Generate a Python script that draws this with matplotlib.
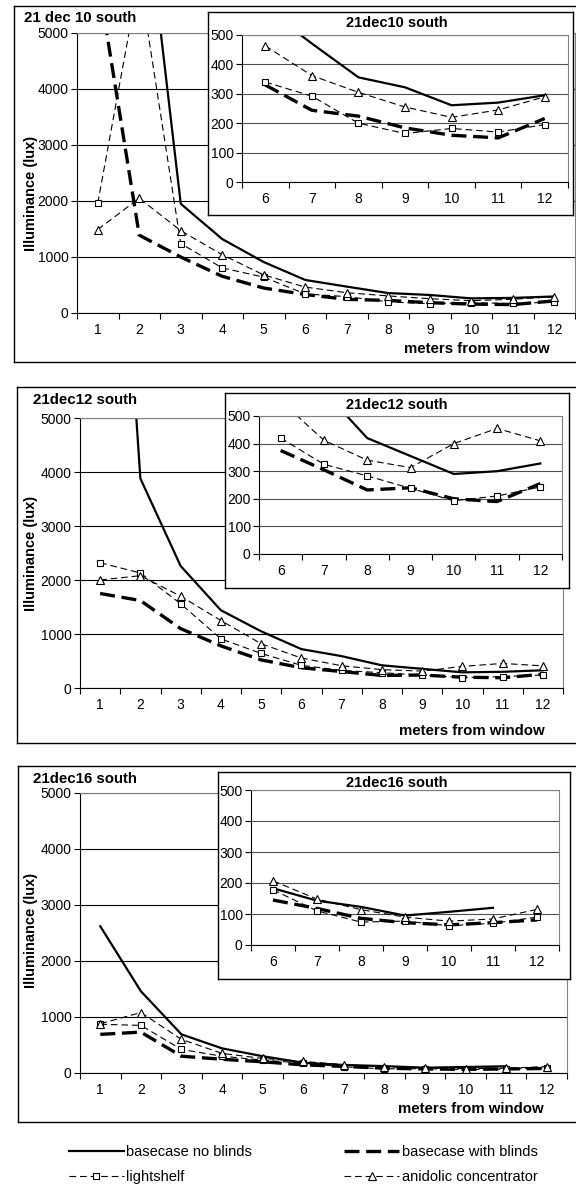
import numpy as np
import matplotlib
matplotlib.use("Agg")
import matplotlib.pyplot as plt
from matplotlib.lines import Line2D

plt.rcParams['font.family'] = ['Liberation Sans', 'DejaVu Sans']

W, H = 576, 1187
meters = np.arange(1, 13)
series_names = ["basecase no blinds", "basecase with blinds", "lightshelf", "anidolic concentrator"]

# 21 dec 10:00 south
dec10_nob = [10500, 8300, 1950, 1320, 910, 590, 471, 356, 322, 261, 270, 295]
dec10_blinds = [6000, 1390, 1000, 655, 446, 330, 244, 224, 184, 159, 150, 216]
dec10_shelf = [1960, 6000, 1240, 805, 640, 340, 292, 200, 165, 182, 170, 195]
dec10_anid = [1490, 2050, 1470, 1040, 680, 463, 362, 305, 255, 220, 245, 290]

# 21 dec 12:00 south
dec12_nob = [15000, 3880, 2260, 1440, 1050, 720, 590, 420, 355, 290, 300, 328]
dec12_blinds = [1750, 1620, 1100, 780, 520, 375, 305, 232, 240, 200, 190, 255]
dec12_shelf = [2320, 2130, 1560, 910, 640, 420, 325, 283, 238, 193, 210, 243]
dec12_anid = [2000, 2080, 1700, 1250, 820, 555, 412, 340, 313, 400, 455, 410]

# 21 dec 16:00 south
dec16_nob = [2620, 1460, 690, 440, 300, 183, 143, 123, 95, 107, 120, np.nan]
dec16_blinds = [690, 730, 300, 245, 200, 145, 118, 86, 72, 65, 72, 81]
dec16_shelf = [870, 850, 420, 300, 230, 178, 110, 74, 77, 62, 70, 90]
dec16_anid = [880, 1080, 600, 350, 260, 207, 148, 114, 90, 77, 84, 115]

main_titles = ["21 dec 10 south", "21dec12 south", "21dec16 south"]
inset_titles = ["21dec10 south", "21dec12 south", "21dec16 south"]
panel_data = [
    (dec10_nob, dec10_blinds, dec10_shelf, dec10_anid),
    (dec12_nob, dec12_blinds, dec12_shelf, dec12_anid),
    (dec16_nob, dec16_blinds, dec16_shelf, dec16_anid),
]

fig = plt.figure(figsize=(W / 100, H / 100), dpi=100)


def rect(l, t, r, b):
    return [l / W, 1 - b / H, (r - l) / W, (b - t) / H]


def box(l, t, r, b, face='none'):
    ax = fig.add_axes(rect(l, t, r, b))
    ax.set_xticks([])
    ax.set_yticks([])
    ax.set_facecolor(face)
    for s in ax.spines.values():
        s.set_color('black')
        s.set_linewidth(1.0)
    return ax


styles = [
    dict(color='k', lw=1.6),
    dict(color='k', lw=2.4, dashes=(4.5, 2.0)),
    dict(color='k', lw=0.8, dashes=(6, 3.5), marker='s', ms=5, mfc='white', mec='k', mew=0.8),
    dict(color='k', lw=0.8, dashes=(6, 3.5), marker='^', ms=6, mfc='white', mec='k', mew=0.8),
]


def draw(ax, x, ys):
    for y, st in zip(ys, styles):
        ax.plot(x, y, **st)


def style_axes(ax, x, ymax, ystep, gridc, fs):
    ax.set_xlim(x[0] - 0.5, x[-1] + 0.5)
    ax.set_ylim(0, ymax)
    ax.set_yticks(np.arange(0, ymax + 1, ystep))
    ax.yaxis.grid(True, color=gridc, lw=0.8)
    ax.set_axisbelow(True)
    ax.set_xticks(x)
    ax.set_xticks(np.arange(x[0] - 0.5, x[-1] + 1), minor=True)
    ax.tick_params(axis='x', which='major', length=0, pad=7, labelsize=fs)
    ax.tick_params(axis='x', which='minor', length=4, direction='out', width=0.8)
    ax.tick_params(axis='y', length=4, direction='out', width=0.8, labelsize=fs, pad=2)
    ax.spines['left'].set_color('k')
    ax.spines['bottom'].set_color('k')
    for s in ['top', 'right']:
        ax.spines[s].set_color('#808080')
        ax.spines[s].set_linewidth(0.8)


# layout in pixels: outer box, main axes, inset frame, inset axes, text anchors
layouts = [
    dict(outer=(14, 6, 600, 362), main=(77, 33, 575, 313), frame=(208, 12, 573, 215),
         inset=(242, 35, 568, 182), title=(24, 18), ititle=(397, 23), ylab=(31, 193), xlab=(550, 349)),
    dict(outer=(17, 387, 600, 743), main=(80, 418, 563, 688), frame=(225, 393, 569, 588),
         inset=(259, 416, 562, 554), title=(33, 400), ititle=(397, 405), ylab=(31, 553), xlab=(545, 731)),
    dict(outer=(18, 766, 600, 1122), main=(80, 793, 567, 1073), frame=(218, 772, 570, 979),
         inset=(251, 790, 559, 945), title=(33, 779), ititle=(397, 783), ylab=(31, 930), xlab=(544, 1109)),
]

for i, lay in enumerate(layouts):
    box(*lay['outer'])
    ax = fig.add_axes(rect(*lay['main']))
    draw(ax, meters, panel_data[i])
    style_axes(ax, meters, 5000, 1000, 'black', 10)

    box(*lay['frame'], face='white')
    ax2 = fig.add_axes(rect(*lay['inset']))
    draw(ax2, meters[5:], [np.asarray(v)[5:] for v in panel_data[i]])
    style_axes(ax2, meters[5:], 500, 100, '#505050', 10)

    tx, ty = lay['title']
    fig.text(tx / W, 1 - ty / H, main_titles[i], fontsize=10.8, fontweight='bold', va='center', ha='left')
    tx, ty = lay['ititle']
    fig.text(tx / W, 1 - ty / H, inset_titles[i], fontsize=10.5, fontweight='bold', va='center', ha='center')
    tx, ty = lay['ylab']
    fig.text(tx / W, 1 - ty / H, "Illuminance (lux)", fontsize=10.5, fontweight='bold',
             rotation=90, va='center', ha='center')
    tx, ty = lay['xlab']
    fig.text(tx / W, 1 - ty / H, "meters from window", fontsize=10.8, fontweight='bold', va='center', ha='right')

handles = [Line2D([], [], **st) for st in styles]
order = [0, 2, 1, 3]
fig.legend([handles[k] for k in order], [series_names[k] for k in order], ncol=2,
           loc='center', bbox_to_anchor=(303 / W, 1 - 1164.5 / H), frameon=False, fontsize=10.5,
           handlelength=3.8, handletextpad=0.15, columnspacing=6.3, labelspacing=0.7)

fig.savefig("out.png", dpi=100)
